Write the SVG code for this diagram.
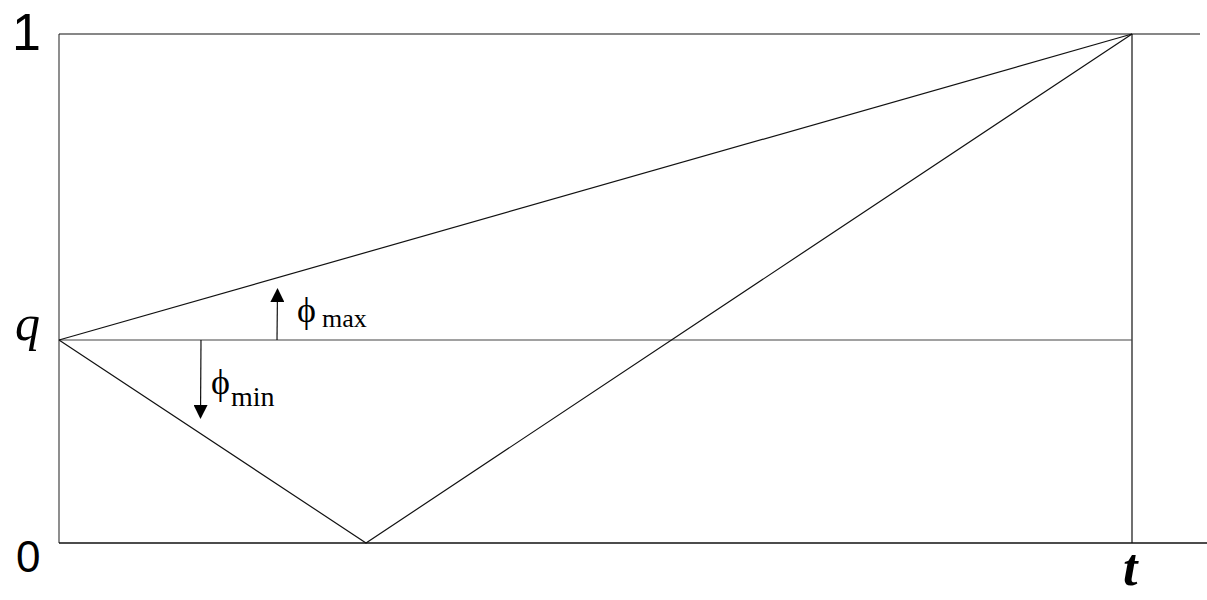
<svg xmlns="http://www.w3.org/2000/svg" width="1207" height="600" viewBox="0 0 1207 600">
<defs>
<style>
.ln{stroke:#111;stroke-width:1.2;fill:none}
.ax{stroke:#444;stroke-width:1.2;fill:none}
.sans{font-family:Arial,'Liberation Sans',sans-serif}
</style>
<marker id="ah" markerWidth="14" markerHeight="14" refX="12" refY="7" orient="auto" markerUnits="userSpaceOnUse">
<path d="M0,0 L14,7 L0,14 Z" fill="#000"/>
</marker>
</defs>
<rect width="1207" height="600" fill="#fff"/>
<g id="frame">
<line class="ax" x1="59" y1="34" x2="59" y2="543"/>
<line class="ln" x1="59" y1="34" x2="1200" y2="34"/>
<line class="ln" x1="59" y1="543" x2="1207" y2="543" style="stroke-width:1.5"/>
<line class="ln" x1="1132" y1="34" x2="1132" y2="543"/>
<line class="ax" x1="59" y1="340" x2="1132" y2="340"/>
</g>
<g id="connectors">
<line class="ln" x1="59" y1="340" x2="1132" y2="34"/>
<polyline class="ln" points="59,340 366,543 1132,34"/>
<line class="ln" x1="277" y1="340" x2="277.5" y2="290" marker-end="url(#ah)"/>
<line class="ln" x1="201" y1="340" x2="200.5" y2="417" marker-end="url(#ah)"/>
</g>
<g id="labels" fill="#000">
<text class="sans" x="12" y="50" font-size="52">1</text>
<text class="sans" x="16" y="572" font-size="44">0</text>
<text x="15" y="340" font-size="50" font-style="italic" font-family="'Liberation Serif', serif">q</text>
<text x="1123" y="585" font-size="52" font-style="italic" font-weight="bold" font-family="'Liberation Serif', serif">t</text>
</g>
<g id="phimax" fill="#000" font-family="'Liberation Serif', serif">
<text x="297" y="322" font-size="36">ϕ</text>
<text x="322" y="327" font-size="26">max</text>
</g>
<g id="phimin" fill="#000" font-family="'Liberation Serif', serif">
<text x="211" y="394" font-size="36">ϕ</text>
<text x="231" y="406" font-size="28">min</text>
</g>
</svg>
